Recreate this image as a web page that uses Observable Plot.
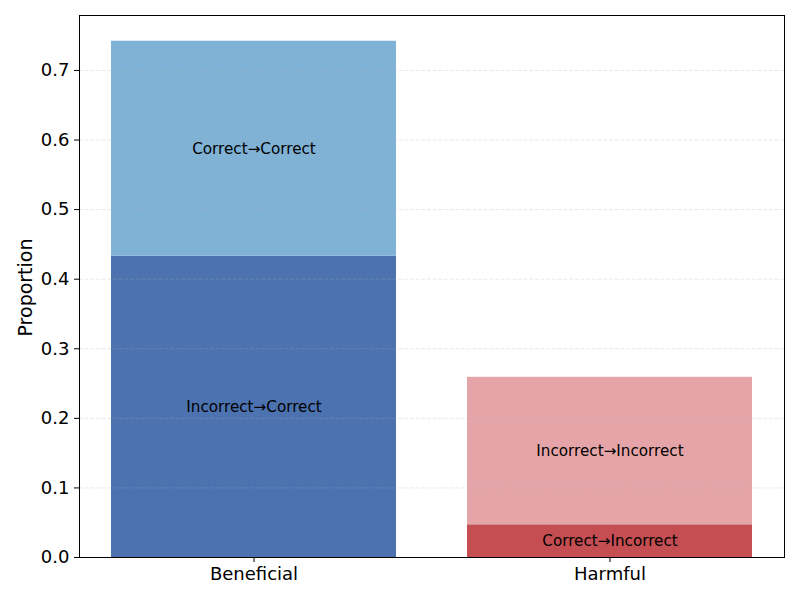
<!DOCTYPE html>
<html>
<head>
<meta charset="utf-8">
<script src="https://cdn.jsdelivr.net/npm/d3@7"></script>
<script src="https://cdn.jsdelivr.net/npm/@observablehq/plot@0.6"></script>
<style>
  html, body { margin: 0; padding: 0; background: #fff; }
  #chart svg { display: block; }
</style>
</head>
<body>
<div id="chart"></div>
<script>
const groups = ["Beneficial", "Beneficial", "Harmful", "Harmful"];
const transitions = ["Incorrect→Correct", "Correct→Correct", "Correct→Incorrect", "Incorrect→Incorrect"];
const values = [0.433, 0.309, 0.047, 0.212];
const colors = ["#4c72b0", "#7fb2d5", "#c44e52", "#e5a5a8"];
const yTicks = [0, 0.1, 0.2, 0.3, 0.4, 0.5, 0.6, 0.7];
const categories = ["Beneficial", "Harmful"];
const yLabel = "Proportion";

const data = groups.map((g, i) => ({group: g, transition: transitions[i], value: values[i], color: colors[i], order: i}));

const font = "DejaVu Sans, sans-serif";

const chart = Plot.plot({
  width: 800,
  height: 600,
  marginLeft: 79,
  marginRight: 16,
  marginTop: 15,
  marginBottom: 43,
  style: {fontFamily: font, background: "#fff", color: "#000"},
  x: {domain: categories, paddingInner: 0.2, paddingOuter: 0.0875, label: null},
  y: {domain: [0, 0.779], label: null},
  marks: [
    Plot.barY(data, Plot.stackY({x: "group", y: "value", fill: "color", order: "order"})),
    Plot.gridY(yTicks.slice(1), {stroke: "#b0b0b0", strokeOpacity: 0.35, strokeDasharray: "4,1.7", strokeWidth: 0.8}),
    Plot.text(data, Plot.stackY({x: "group", y: "value", text: "transition", order: "order", fontSize: 15.2, fill: "#000", fontFamily: font})),
    Plot.axisY(yTicks, {tickFormat: d3.format(".1f"), fontSize: 18, tickSize: 5, tickPadding: 5, label: null, fontFamily: font}),
    Plot.axisX({fontSize: 18, tickSize: 5, tickPadding: 5, label: null, fontFamily: font}),
    Plot.text([yLabel], {frameAnchor: "left", textAnchor: "middle", dx: -54, dy: 1, rotate: -90, text: d => d, fontSize: 19, fill: "#000", fontFamily: font}),
    Plot.frame({stroke: "#000", strokeWidth: 1})
  ]
});
document.getElementById("chart").appendChild(chart);
</script>
</body>
</html>
